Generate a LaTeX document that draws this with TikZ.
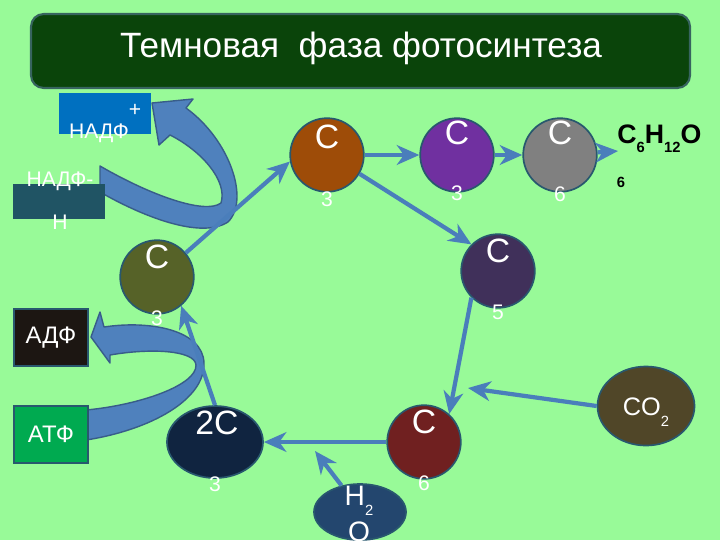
\documentclass[tikz,border=0pt]{standalone}
\usepackage{fontspec}
\setmainfont{Liberation Sans}
\usetikzlibrary{calc,positioning,shapes.geometric,arrows.meta}
\definecolor{bggreen}{RGB}{152,250,152}
\definecolor{titlegreen}{RGB}{10,68,10}
\definecolor{titlerim}{RGB}{55,100,95}
\definecolor{rimblue}{RGB}{40,88,110}
\definecolor{flowblue}{RGB}{74,126,187}
\definecolor{ribbonblue}{RGB}{79,129,189}
\definecolor{ribbonedge}{RGB}{56,93,138}
\definecolor{nadfblue}{RGB}{0,112,192}
\definecolor{nadfteal}{RGB}{32,84,100}
\definecolor{adpblack}{RGB}{28,22,18}
\definecolor{atpgreen}{RGB}{0,170,80}
\definecolor{colive}{RGB}{86,98,40}
\definecolor{cbrown}{RGB}{158,76,8}
\definecolor{cpurple}{RGB}{112,48,160}
\definecolor{cgray}{RGB}{128,128,128}
\definecolor{cviolet}{RGB}{64,48,90}
\definecolor{cred}{RGB}{112,32,32}
\definecolor{cnavy}{RGB}{16,36,64}
\definecolor{cco}{RGB}{80,70,40}
\definecolor{cwater}{RGB}{35,70,110}
\newcommand{\lowsub}[2][7pt]{\raisebox{-#1}{\fontsize{10.5}{12}\selectfont #2}}

\tikzset{
  atom/.style={circle, draw=rimblue, line width=1.2pt, minimum size=1.84cm, inner sep=0pt},
  oval/.style={ellipse, draw=rimblue, line width=1.2pt, inner sep=0pt},
  flow/.style={draw=flowblue, line width=3pt, -{Stealth[length=16pt,width=14pt,inset=5pt]}},
  bigC/.style={text=white, font=\fontsize{24}{28}\selectfont, inner sep=0pt},
  digit/.style={text=white, font=\fontsize{15}{18}\selectfont, inner sep=0pt},
  tag/.style={text=white, font=\fontsize{15}{18}\selectfont, inner sep=0pt},
  ribbon/.style={fill=ribbonblue, draw=ribbonedge, line width=1pt, line join=round}
}

\begin{document}
\begin{tikzpicture}[x=0.025cm, y=-0.025cm]
% background
\fill[bggreen] (0,0) rectangle (720,540);
\useasboundingbox (0,0) rectangle (720,540);
\clip (0,0) rectangle (720,540);
% title
\draw[fill=titlegreen, draw=titlerim, line width=1.5pt, rounded corners=9pt] (31,14) rectangle (690,88);
\node[text=white, font=\fontsize{25}{30}\selectfont] (title) at (361,48) {Темновая\ \ фаза фотосинтеза};
% big curved arrows
\draw[ribbon] (100,166) .. controls (150,195) and (205,215) .. (221,203)
  .. controls (228,180) and (200,150) .. (170,135) -- (159,145) -- (152,103)
  -- (193,99) -- (186,108) .. controls (230,140) and (250,200) .. (228,222)
  .. controls (200,240) and (140,215) .. (100,192) -- cycle;
\draw[ribbon] (86,440) .. controls (150,430) and (205,400) .. (204,363)
  .. controls (203,330) and (150,320) .. (104,327) -- (100,312) -- (91,337)
  -- (110,363) -- (110,355) .. controls (150,348) and (195,350) .. (196,365)
  .. controls (197,385) and (140,405) .. (86,410) -- cycle;
% side boxes
\node[fill=nadfblue, minimum width=2.3cm, minimum height=1.025cm] (nadfp) at (105,113.5) {};
\node[tag] (plus) at (135,110) {+};
\node[tag] (nadfplabel) at (99,133) {НАДФ};
\node[fill=nadfteal, minimum width=2.3cm, minimum height=0.875cm] (nadfh) at (59,201.5) {};
\node[tag] (nadfhtop) at (60,181) {НАДФ-};
\node[tag] (nadfhbot) at (60,222) {Н};
\node[fill=adpblack, draw=rimblue, line width=1.2pt, minimum width=1.85cm, minimum height=1.425cm,
  text=white, font=\fontsize{17}{20}\selectfont] (adp) at (51,337.5) {АДФ};
\node[fill=atpgreen, draw=rimblue, line width=1.2pt, minimum width=1.85cm, minimum height=1.425cm,
  text=white, font=\fontsize{17}{20}\selectfont] (atp) at (51,434.5) {АТФ};
% cycle
\node[atom, fill=colive] (olive) at (157,277) {};
\node[atom, fill=cbrown] (brown) at (327,155) {};
\node[atom, fill=cpurple] (purple) at (457,155) {};
\node[atom, fill=cgray] (gray) at (560,155) {};
\node[atom, fill=cviolet] (five) at (498,271) {};
\node[atom, fill=cred] (six) at (424,442) {};
\node[oval, fill=cnavy, minimum width=2.4cm, minimum height=1.8cm] (twoC) at (215,442) {};
\node[oval, fill=cco, minimum width=2.425cm, minimum height=1.975cm] (co) at (646,406) {};
\node[oval, fill=cwater, minimum width=2.3cm, minimum height=1.4cm] (water) at (360,512) {};
% arrows
\coordinate (glucose) at (618,151);
\coordinate (fix) at (468,388);
\coordinate (split) at (315,451);
\draw[flow] (olive.40) -- (brown.190);
\draw[flow] (brown) -- (purple);
\draw[flow] (purple) -- (gray);
\draw[flow] (gray) -- (glucose);
\draw[flow] (brown.-30) -- (five.135);
\draw[flow] (five.-135) -- (six.48);
\draw[flow] (co.west) -- (fix);
\draw[flow] (six) -- (twoC);
\draw[flow] (water.125) -- (split);
\draw[flow] (twoC.north) -- (olive.-50);
% labels
\node[bigC] at ($(olive)+(0,-20)$) {С};
\node[digit] at ($(olive)+(0,41)$) {3};
\node[bigC] at ($(brown)+(0,-18)$) {С};
\node[digit] at ($(brown)+(0,44)$) {3};
\node[bigC] at ($(purple)+(0,-22)$) {С};
\node[digit] at ($(purple)+(0,38)$) {3};
\node[bigC] at ($(gray)+(0,-22)$) {С};
\node[digit] at ($(gray)+(0,39)$) {6};
\node[bigC] at ($(five)+(0,-20)$) {С};
\node[digit] at ($(five)+(0,41)$) {5};
\node[bigC] at ($(six)+(0,-20)$) {С};
\node[digit] at ($(six)+(0,41)$) {6};
\node[bigC] at ($(twoC)+(2,-19)$) {2С};
\node[digit] at ($(twoC)+(0,42)$) {3};
\node[text=white, font=\fontsize{18}{22}\selectfont, anchor=base] (colabel) at (646,415) {CO\lowsub[8pt]{2}};
\node[text=white, font=\fontsize{20}{26}\selectfont, align=center, inner sep=0pt] (hlabel) at (359,514) {H\lowsub{2}\\O};
\node[font=\fontsize{19}{22}\selectfont\bfseries, anchor=base west, inner sep=0pt] (formula) at (617,143) {С\lowsub{6}Н\lowsub{12}О};
\node[font=\fontsize{10.5}{12}\selectfont\bfseries, inner sep=0pt] (formulasix) at (621,182) {6};
\end{tikzpicture}
\end{document}
